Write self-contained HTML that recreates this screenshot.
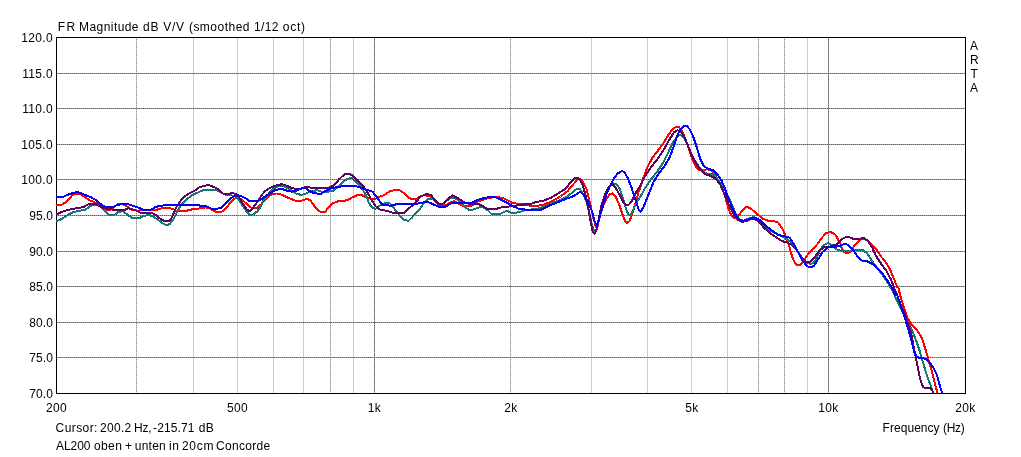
<!DOCTYPE html>
<html lang="en"><head><meta charset="utf-8"><title>FR Magnitude dB V/V (smoothed 1/12 oct)</title>
<style>
html,body{margin:0;padding:0;background:#fff;}
body{width:1021px;height:457px;overflow:hidden;}
svg{display:block;}
text{font-family:"Liberation Sans",sans-serif;font-size:12px;fill:#000;}
.c{fill:none;stroke-width:2;stroke-linejoin:round;stroke-linecap:butt;}
</style></head><body>
<svg width="1021" height="457" viewBox="0 0 1021 457">
<rect x="0" y="0" width="1021" height="457" fill="#ffffff"/>
<defs><pattern id="tl" width="2" height="2" patternUnits="userSpaceOnUse" shape-rendering="crispEdges"><rect width="2" height="2" fill="#009a9a"/><rect width="1" height="1" fill="#006666"/><rect x="1" y="1" width="1" height="1" fill="#006666"/></pattern><clipPath id="plot"><rect x="56" y="38" width="909" height="355"/></clipPath></defs>
<g shape-rendering="crispEdges">
<rect x="136" y="38" width="1" height="355" fill="#d8d8d8"/>
<line x1="136.5" y1="39" x2="136.5" y2="393" stroke="#909090" stroke-width="1" stroke-dasharray="1 1"/>
<rect x="193" y="38" width="1" height="355" fill="#cccccc"/>
<rect x="237" y="38" width="1" height="355" fill="#cccccc"/>
<rect x="273" y="38" width="1" height="355" fill="#cccccc"/>
<rect x="303" y="38" width="1" height="355" fill="#cccccc"/>
<rect x="330" y="38" width="1" height="355" fill="#d8d8d8"/>
<line x1="330.5" y1="39" x2="330.5" y2="393" stroke="#909090" stroke-width="1" stroke-dasharray="1 1"/>
<rect x="353" y="38" width="1" height="355" fill="#cccccc"/>
<rect x="374" y="38" width="1" height="355" fill="#a0a0a0"/>
<line x1="374.5" y1="39" x2="374.5" y2="393" stroke="#606060" stroke-width="1" stroke-dasharray="1 1"/>
<rect x="510" y="38" width="1" height="355" fill="#d8d8d8"/>
<line x1="510.5" y1="39" x2="510.5" y2="393" stroke="#909090" stroke-width="1" stroke-dasharray="1 1"/>
<rect x="591" y="38" width="1" height="355" fill="#cccccc"/>
<rect x="647" y="38" width="1" height="355" fill="#cccccc"/>
<rect x="691" y="38" width="1" height="355" fill="#cccccc"/>
<rect x="727" y="38" width="1" height="355" fill="#cccccc"/>
<rect x="758" y="38" width="1" height="355" fill="#d8d8d8"/>
<line x1="758.5" y1="39" x2="758.5" y2="393" stroke="#909090" stroke-width="1" stroke-dasharray="1 1"/>
<rect x="784" y="38" width="1" height="355" fill="#d8d8d8"/>
<line x1="784.5" y1="39" x2="784.5" y2="393" stroke="#909090" stroke-width="1" stroke-dasharray="1 1"/>
<rect x="807" y="38" width="1" height="355" fill="#cccccc"/>
<rect x="828" y="38" width="1" height="355" fill="#a0a0a0"/>
<line x1="828.5" y1="39" x2="828.5" y2="393" stroke="#606060" stroke-width="1" stroke-dasharray="1 1"/>
<rect x="57" y="73" width="908" height="1" fill="#a0a0a0"/>
<line x1="58" y1="73.5" x2="965" y2="73.5" stroke="#606060" stroke-width="1" stroke-dasharray="1 1"/>
<rect x="57" y="108" width="908" height="1" fill="#a0a0a0"/>
<line x1="57" y1="108.5" x2="965" y2="108.5" stroke="#606060" stroke-width="1" stroke-dasharray="1 1"/>
<rect x="57" y="144" width="908" height="1" fill="#a0a0a0"/>
<line x1="57" y1="144.5" x2="965" y2="144.5" stroke="#606060" stroke-width="1" stroke-dasharray="1 1"/>
<rect x="57" y="179" width="908" height="1" fill="#a0a0a0"/>
<line x1="58" y1="179.5" x2="965" y2="179.5" stroke="#606060" stroke-width="1" stroke-dasharray="1 1"/>
<rect x="57" y="215" width="908" height="1" fill="#a0a0a0"/>
<line x1="58" y1="215.5" x2="965" y2="215.5" stroke="#606060" stroke-width="1" stroke-dasharray="1 1"/>
<rect x="57" y="251" width="908" height="1" fill="#a0a0a0"/>
<line x1="58" y1="251.5" x2="965" y2="251.5" stroke="#606060" stroke-width="1" stroke-dasharray="1 1"/>
<rect x="57" y="286" width="908" height="1" fill="#a0a0a0"/>
<line x1="57" y1="286.5" x2="965" y2="286.5" stroke="#606060" stroke-width="1" stroke-dasharray="1 1"/>
<rect x="57" y="322" width="908" height="1" fill="#a0a0a0"/>
<line x1="57" y1="322.5" x2="965" y2="322.5" stroke="#606060" stroke-width="1" stroke-dasharray="1 1"/>
<rect x="57" y="357" width="908" height="1" fill="#a0a0a0"/>
<line x1="58" y1="357.5" x2="965" y2="357.5" stroke="#606060" stroke-width="1" stroke-dasharray="1 1"/>
</g>
<g shape-rendering="crispEdges" fill="#000"><rect x="56" y="37" width="910" height="1"/><rect x="56" y="393" width="910" height="1"/><rect x="56" y="37" width="1" height="357"/><rect x="965" y="37" width="1" height="357"/></g>
<g clip-path="url(#plot)" shape-rendering="crispEdges">
<polyline class="c" stroke="#ff0000" points="55.0,205.1 56.0,205.1 61.9,204.6 65.4,202.5 69.0,198.9 72.5,195.0 76.7,193.6 80.0,194.0 84.3,196.6 89.1,200.1 93.8,201.9 97.3,203.7 100.9,207.2 105.6,209.6 110.3,209.6 113.9,207.2 117.4,204.5 120.4,203.9 124.5,204.8 128.0,207.2 132.8,210.2 137.5,210.7 142.2,210.2 150.5,210.2 156.4,209.9 162.3,208.0 168.2,207.8 172.9,209.0 176.0,210.7 186.6,210.7 193.7,209.0 200.9,208.3 205.8,207.3 209.8,208.5 213.7,210.9 216.7,211.9 221.6,211.9 224.5,209.9 228.5,205.0 232.4,200.1 235.4,198.4 238.3,197.6 242.3,200.1 246.2,203.5 249.1,206.5 252.1,208.0 257.0,208.0 261.0,204.5 264.9,200.1 268.8,196.2 272.8,193.7 276.7,193.5 281.6,194.7 286.6,197.1 291.5,199.1 296.0,200.8 302.6,200.5 306.9,198.8 310.2,200.3 314.6,206.3 319.0,211.2 321.2,212.0 325.0,212.0 327.7,208.5 332.1,203.6 337.6,201.4 347.4,200.3 352.0,197.5 357.6,195.1 361.8,195.1 366.0,197.5 370.2,198.6 375.8,198.6 380.0,196.5 384.2,195.1 389.8,191.3 394.0,190.2 399.6,190.2 403.8,193.0 409.4,198.3 416.0,199.6 420.2,196.5 424.4,195.1 430.0,196.5 434.2,200.7 438.4,204.9 445.4,205.6 449.6,202.8 454.5,201.1 458.0,203.5 462.2,205.6 472.0,205.6 477.6,201.7 486.0,198.6 491.6,197.5 498.6,197.2 504.2,198.6 508.4,200.7 512.6,203.1 519.6,203.9 525.2,204.9 532.2,205.9 536.0,206.0 543.0,204.9 551.7,201.4 560.5,196.5 567.5,191.2 572.7,185.1 577.1,179.9 579.7,178.6 583.2,182.5 586.7,189.5 590.2,203.5 592.8,215.7 595.5,226.2 596.9,228.8 598.2,224.0 599.8,215.7 603.3,205.2 606.8,198.2 610.3,193.9 612.6,193.3 615.6,196.5 619.1,204.4 622.6,214.8 625.2,221.0 627.0,222.7 629.6,221.0 632.2,214.0 634.8,205.2 638.3,193.0 640.0,188.0 643.5,177.5 647.9,166.1 652.2,158.2 657.5,151.2 662.7,144.2 668.0,135.5 672.4,129.4 675.9,126.7 678.5,126.7 682.0,131.1 685.5,139.0 689.0,149.5 692.5,160.0 696.0,167.0 699.5,170.1 703.8,170.1 707.3,169.1 711.7,170.8 715.2,174.9 719.6,183.6 721.2,185.0 724.7,195.5 728.2,207.7 730.9,214.7 733.5,217.7 737.0,217.4 740.5,213.0 744.9,207.7 747.8,206.9 751.9,209.5 757.1,213.9 762.4,218.6 768.5,220.9 773.7,220.9 778.1,222.6 782.5,228.7 786.0,237.0 788.6,243.9 791.2,253.5 793.9,261.4 796.5,264.5 800.9,264.5 804.4,259.6 808.7,253.5 813.1,249.1 817.5,243.9 821.9,237.7 826.2,233.0 829.7,232.0 833.2,233.0 835.9,235.4 838.8,240.8 840.8,244.7 841.8,248.7 843.7,251.6 846.7,253.0 849.6,252.3 852.1,249.2 854.6,245.2 857.5,242.3 859.5,240.0 864.0,238.5 868.0,241.0 872.3,244.7 875.3,248.2 878.2,252.1 881.2,256.5 884.1,260.0 887.1,264.4 890.0,269.3 893.6,278.0 897.1,286.7 898.4,287.9 901.0,298.4 904.3,308.9 907.6,318.1 910.9,324.0 913.3,326.7 917.4,330.8 921.6,337.5 924.6,346.6 927.4,355.8 929.9,364.9 932.4,373.2 934.9,383.2 936.6,389.9 937.4,394.0"/>
<polyline class="c" stroke="url(#tl)" points="55.0,221.9 56.0,221.4 61.9,219.0 67.8,214.9 73.7,211.9 79.6,210.7 85.5,209.6 90.2,206.0 93.8,204.8 97.3,204.8 102.0,207.8 105.6,211.9 108.7,214.8 114.6,214.8 118.5,212.0 122.4,211.1 127.3,214.5 132.2,218.2 139.1,218.2 143.0,216.2 148.9,215.0 152.8,216.2 158.7,220.4 163.6,223.8 166.5,225.0 169.5,224.3 173.4,219.4 177.3,211.5 181.2,204.7 186.1,199.8 191.0,195.9 194.5,193.9 199.6,191.8 203.2,190.1 211.4,189.7 216.2,190.1 220.9,192.4 226.8,195.4 231.5,195.4 236.2,196.6 239.8,201.3 243.3,206.6 246.9,211.9 249.8,214.6 252.8,214.6 257.5,211.3 261.0,206.0 264.6,198.3 269.3,193.0 274.0,188.3 278.8,185.9 282.3,185.7 285.8,187.1 290.6,190.1 296.0,193.6 300.2,194.7 304.4,194.4 310.0,191.6 317.0,190.2 322.6,191.9 332.4,191.3 336.6,188.1 342.2,182.5 347.8,178.6 352.0,178.3 356.2,181.8 361.8,188.1 366.0,195.1 368.8,202.8 372.3,207.7 375.8,208.7 380.0,205.6 385.6,202.8 389.8,203.2 394.0,208.4 399.6,215.4 404.5,220.3 408.7,220.7 412.2,217.5 416.0,213.1 420.2,208.4 424.4,202.1 427.9,199.3 431.4,198.3 435.6,200.9 439.1,204.3 443.3,204.0 448.2,199.5 452.6,197.4 458.0,200.0 463.6,205.6 468.5,209.8 473.4,209.5 477.6,207.7 481.8,207.0 486.0,208.7 491.6,214.0 500.0,214.0 504.2,211.9 507.0,210.9 511.2,212.6 516.8,212.6 521.0,211.5 525.2,210.1 536.0,209.0 543.0,207.0 551.7,203.5 560.5,200.0 567.5,196.5 572.7,192.1 577.1,188.6 579.7,188.6 583.2,193.9 586.7,202.6 589.5,214.0 592.0,225.0 594.0,230.5 595.5,231.5 597.5,226.0 599.5,216.0 602.5,204.0 606.0,193.0 610.0,186.0 613.8,183.4 616.5,183.9 620.0,189.5 623.5,200.0 626.1,208.7 628.4,214.9 630.5,214.9 633.1,209.6 636.6,202.6 641.0,195.6 645.2,188.0 650.5,180.1 657.5,171.3 662.7,163.5 668.0,153.0 672.4,143.4 676.7,137.2 679.9,134.6 682.9,136.4 686.4,142.5 690.0,151.0 695.0,161.0 700.0,168.0 704.7,173.1 710.0,174.0 714.3,174.9 718.7,181.0 722.1,185.0 726.5,192.9 731.7,204.2 735.5,213.0 739.0,219.0 743.0,220.8 748.0,219.0 753.6,217.0 758.0,219.0 763.0,224.5 768.0,229.0 773.7,232.2 784.2,237.5 789.5,241.0 794.0,246.0 798.0,251.5 802.5,258.5 807.0,263.1 811.4,264.0 814.9,261.4 818.4,253.5 822.7,245.6 828.0,243.0 831.5,244.7 835.9,249.1 842.0,251.2 850.7,251.2 856.0,250.0 863.0,250.0 867.3,253.5 871.7,260.5 877.0,267.5 882.2,274.5 885.9,280.0 890.5,287.2 894.5,295.1 898.4,303.6 901.7,310.2 905.0,317.0 907.5,321.5 910.0,326.7 913.3,333.3 916.6,341.6 919.6,350.8 922.4,360.7 925.8,371.6 929.1,381.5 931.6,388.2 933.6,394.0"/>
<polyline class="c" stroke="#620062" points="55.0,215.1 56.0,214.6 61.9,211.9 67.8,209.9 73.7,208.7 79.6,208.0 84.3,206.6 87.9,204.5 91.4,203.9 96.2,204.3 99.7,206.0 104.4,208.4 109.1,208.7 112.7,209.6 117.4,210.2 124.5,209.9 128.0,208.4 131.6,209.0 136.3,210.7 139.9,212.5 146.9,212.8 151.8,213.0 155.7,215.0 159.7,218.4 164.6,221.1 168.5,221.1 171.4,218.4 174.4,211.5 177.3,205.7 181.2,199.8 186.1,195.4 190.0,192.9 194.5,190.9 199.6,187.1 204.3,185.9 209.1,185.0 212.6,186.5 217.3,188.7 223.2,193.6 228.0,194.0 232.7,193.0 236.2,194.2 239.8,198.3 243.3,204.3 246.9,209.6 249.8,211.1 252.8,207.8 257.5,201.9 261.0,196.0 264.6,191.5 269.3,188.3 274.0,185.9 278.8,184.8 282.3,184.2 285.8,185.4 290.6,187.5 296.0,189.2 300.2,188.8 307.2,186.7 311.4,187.8 318.4,188.1 328.2,188.1 333.8,185.3 339.4,179.0 344.3,174.5 348.5,173.8 352.0,175.1 357.6,180.4 363.2,186.0 367.4,192.3 371.6,200.0 375.8,206.3 380.0,209.5 387.0,210.8 392.6,212.6 403.8,212.9 408.0,209.1 412.2,205.6 416.0,202.2 420.2,196.9 424.4,194.7 427.9,194.1 431.4,195.5 435.6,200.7 439.1,203.9 443.3,203.5 448.2,198.6 452.4,195.5 456.6,197.5 460.8,200.0 465.0,202.8 472.0,204.2 479.0,204.2 483.2,206.3 487.4,209.1 495.8,209.1 501.4,207.3 507.0,206.6 514.0,206.3 519.6,204.9 526.6,204.2 532.2,203.5 536.0,201.9 543.0,200.9 551.7,197.4 558.7,193.0 565.7,188.6 571.0,181.6 574.5,178.1 578.0,178.1 581.8,182.5 585.0,193.0 588.1,207.0 590.6,221.0 592.8,232.3 594.6,233.6 596.3,230.6 598.6,219.2 601.6,205.2 605.1,193.9 608.6,186.9 612.1,183.9 615.6,187.7 620.0,195.6 623.5,202.6 626.1,204.9 628.7,204.9 631.9,200.9 635.7,193.0 640.0,186.2 645.2,175.7 650.5,167.9 657.5,159.1 664.5,148.6 669.7,139.0 674.1,132.3 677.6,130.2 681.1,132.0 684.6,137.2 688.1,146.0 691.6,154.7 695.1,161.7 699.5,168.7 704.7,174.0 710.0,175.7 715.2,178.3 719.6,183.6 720.4,185.0 724.7,194.6 729.1,205.1 733.5,213.9 737.9,220.0 741.4,221.7 745.7,221.4 750.1,219.1 754.5,218.6 758.9,221.7 764.1,227.9 770.2,233.1 776.3,237.5 782.5,241.3 786.0,242.1 791.2,244.7 796.5,250.0 801.7,257.9 806.1,261.9 810.5,261.9 814.9,257.0 819.2,250.9 823.6,247.4 829.7,246.5 836.7,244.7 841.1,239.5 845.5,237.2 849.8,237.4 855.1,239.5 859.5,239.1 863.8,237.7 867.3,240.4 871.7,246.5 876.1,256.1 881.3,264.0 886.6,271.0 891.0,279.7 894.4,288.5 897.1,295.0 901.5,306.5 904.8,314.0 906.6,320.0 909.1,326.7 911.6,335.0 913.3,344.9 914.9,353.3 916.6,361.6 918.6,371.6 920.8,381.5 923.3,387.4 929.9,388.2 932.4,390.7 933.6,394.0"/>
<polyline class="c" stroke="#0000ff" points="55.0,197.0 63.0,197.0 67.8,194.8 73.7,192.7 77.8,192.1 83.2,194.2 90.2,196.9 96.2,200.1 100.9,204.2 105.6,207.2 112.7,207.2 117.4,204.8 122.1,204.2 128.0,204.2 134.0,206.0 138.7,207.8 143.4,209.8 150.5,209.8 155.2,207.2 160.0,205.8 164.7,205.4 168.2,204.8 176.0,204.8 183.1,205.2 190.2,204.8 197.3,204.8 200.9,206.0 206.8,206.3 211.7,209.0 216.7,209.0 221.6,207.5 225.5,203.5 230.4,198.6 234.4,196.2 238.3,195.2 242.3,196.7 246.2,198.6 249.1,200.8 257.0,200.8 261.0,199.5 265.8,196.0 270.5,193.0 275.2,190.1 279.9,189.1 282.3,189.1 287.0,190.7 291.7,191.6 296.0,191.0 300.2,188.8 305.1,187.7 309.3,190.9 314.2,193.4 321.2,193.7 326.8,190.2 332.4,188.1 339.4,186.7 348.5,185.7 356.2,186.3 361.8,188.1 367.4,189.9 372.3,191.6 375.8,195.8 380.0,201.7 383.5,205.2 391.2,205.6 396.8,204.2 408.0,204.2 416.0,203.9 421.6,202.8 426.5,201.7 431.4,203.5 438.4,206.6 445.4,206.6 451.0,203.5 458.0,202.8 472.0,202.8 477.6,200.0 484.6,197.9 490.2,196.9 495.8,197.5 501.4,200.0 508.4,203.5 514.0,206.7 519.6,209.1 528.0,209.8 536.0,210.0 541.2,209.6 548.2,206.1 557.0,202.6 565.7,199.1 572.7,196.5 577.1,193.9 580.1,191.6 583.2,194.7 587.6,200.9 592.0,211.4 594.6,221.0 596.7,226.2 599.0,219.2 602.5,207.9 606.0,195.6 609.5,186.9 613.0,179.9 617.3,173.7 621.7,171.1 624.3,172.0 627.8,178.1 631.3,186.9 634.8,198.2 638.3,208.7 640.6,211.9 643.6,207.0 647.1,198.2 650.5,189.7 654.0,181.0 659.2,173.1 664.5,166.1 669.7,157.4 673.2,147.7 676.7,137.2 680.2,129.4 683.4,126.2 686.9,126.2 689.9,129.4 693.4,137.2 696.9,147.7 700.3,159.1 703.8,166.1 708.2,168.7 713.5,170.5 717.0,174.0 721.3,180.1 724.8,188.0 726.5,193.7 730.9,204.2 735.2,213.9 738.7,219.1 742.2,220.9 746.6,220.0 751.0,218.2 755.4,217.9 759.7,220.0 765.0,225.2 772.0,230.5 778.1,234.9 784.2,236.1 789.5,237.7 793.9,243.9 798.2,252.6 802.6,260.5 807.0,266.1 810.5,267.5 814.0,265.7 818.4,258.7 822.7,251.7 828.0,247.4 835.0,247.0 840.2,245.6 844.6,243.9 848.1,244.7 852.5,249.1 857.7,257.0 862.1,260.5 867.3,261.4 872.6,264.0 877.8,268.4 883.1,274.5 887.4,280.6 891.8,287.6 895.3,295.0 897.1,295.1 901.0,306.3 904.3,316.1 906.9,324.7 910.0,335.0 912.0,343.3 914.1,351.6 916.6,356.6 919.9,358.3 925.8,358.6 929.9,362.4 933.6,368.2 936.9,374.9 939.1,383.2 941.6,391.5 942.4,394.0"/>
</g>
<text y="31"><tspan x="57.8" textLength="17.3" lengthAdjust="spacing">FR</tspan> <tspan x="79.1" textLength="59.45" lengthAdjust="spacing">Magnitude</tspan> <tspan x="143.1" textLength="15.49" lengthAdjust="spacing">dB</tspan> <tspan x="163.2" textLength="20.74" lengthAdjust="spacing">V/V</tspan> <tspan x="188.9" textLength="60.6" lengthAdjust="spacing">(smoothed</tspan> <tspan x="254.1" textLength="24.26" lengthAdjust="spacing">1/12</tspan> <tspan x="282.8" textLength="22.32" lengthAdjust="spacing">oct)</tspan></text>
<text y="432"><tspan x="55.6" textLength="41.84" lengthAdjust="spacing">Cursor:</tspan> <tspan x="100.0" textLength="31.23" lengthAdjust="spacing">200.2</tspan> <tspan x="134.1" textLength="17.4" lengthAdjust="spacing">Hz,</tspan> <tspan x="153.1" textLength="41.3" lengthAdjust="spacing">-215.71</tspan> <tspan x="198.8" textLength="15.09" lengthAdjust="spacing">dB</tspan></text>
<text y="450"><tspan x="56.1" textLength="34.3" lengthAdjust="spacing">AL200</tspan> <tspan x="93.9" textLength="28.0" lengthAdjust="spacing">oben</tspan> <tspan x="124.9" textLength="7.02" lengthAdjust="spacing">+</tspan> <tspan x="134.8" textLength="30.93" lengthAdjust="spacing">unten</tspan> <tspan x="169.0" textLength="9.84" lengthAdjust="spacing">in</tspan> <tspan x="181.9" textLength="31.64" lengthAdjust="spacing">20cm</tspan> <tspan x="215.9" textLength="54.33" lengthAdjust="spacing">Concorde</tspan></text>
<text y="432"><tspan x="882.6" textLength="57.0" lengthAdjust="spacing">Frequency</tspan> <tspan x="943.0" textLength="21.67" lengthAdjust="spacing">(Hz)</tspan></text>
<text x="53" y="42" text-anchor="end" letter-spacing="0.33">120.0</text>
<text x="53" y="78" text-anchor="end" letter-spacing="0.33">115.0</text>
<text x="53" y="113" text-anchor="end" letter-spacing="0.33">110.0</text>
<text x="53" y="149" text-anchor="end" letter-spacing="0.33">105.0</text>
<text x="53" y="184" text-anchor="end" letter-spacing="0.33">100.0</text>
<text x="53" y="220" text-anchor="end" letter-spacing="0.1">95.0</text>
<text x="53" y="256" text-anchor="end" letter-spacing="0.1">90.0</text>
<text x="53" y="291" text-anchor="end" letter-spacing="0.1">85.0</text>
<text x="53" y="327" text-anchor="end" letter-spacing="0.1">80.0</text>
<text x="53" y="362" text-anchor="end" letter-spacing="0.1">75.0</text>
<text x="53" y="398" text-anchor="end" letter-spacing="0.1">70.0</text>
<text x="56.5" y="412" text-anchor="middle" letter-spacing="0.33">200</text>
<text x="237.5" y="412" text-anchor="middle" letter-spacing="0.33">500</text>
<text x="374.5" y="412" text-anchor="middle" letter-spacing="0.33">1k</text>
<text x="511" y="412" text-anchor="middle" letter-spacing="0.33">2k</text>
<text x="692" y="412" text-anchor="middle" letter-spacing="0.33">5k</text>
<text x="828.5" y="412" text-anchor="middle" letter-spacing="0.33">10k</text>
<text x="965.5" y="412" text-anchor="middle" letter-spacing="0.33">20k</text>
<text x="970" y="50">A</text>
<text x="970" y="64">R</text>
<text x="970.6" y="78">T</text>
<text x="970" y="92">A</text>
</svg></body></html>
